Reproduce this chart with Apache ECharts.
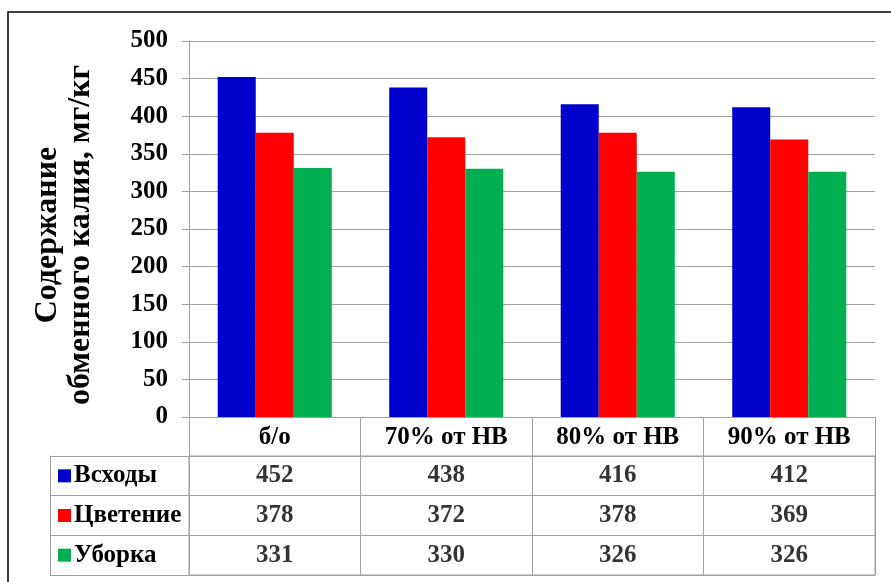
<!DOCTYPE html>
<html>
<head>
<meta charset="utf-8">
<script src="https://cdn.jsdelivr.net/npm/echarts@6/dist/echarts.min.js"></script>
<style>
  html, body { margin: 0; padding: 0; background: #fff; }
  #chart { width: 891px; height: 582px; }
</style>
</head>
<body>
<div id="chart"></div>
<script>
// Irrigation regimes (columns of the data table)
const categories = ['б/о', '70% от НВ', '80% от НВ', '90% от НВ'];
// Growth phases (series / rows of the data table)
const seriesNames = ['Всходы', 'Цветение', 'Уборка'];
const seriesColors = ['#0000CC', '#FF0000', '#00B050'];
// Exchangeable potassium, mg/kg
const vskhody = [452, 438, 416, 412];
const tsvetenie = [378, 372, 378, 369];
const uborka = [331, 330, 326, 326];
const seriesValues = [vskhody, tsvetenie, uborka];
// Y axis
const yMin = 0, yMax = 500, yStep = 50;

const FONT = '"Liberation Serif", "Times New Roman", serif';
const GREY = '#a0a0a0';

const chart = echarts.init(document.getElementById('chart'), null, { renderer: 'canvas' });

// Rich-text styles for the row labels (colour key + name)
const rich = { t: { fontFamily: FONT, fontWeight: 'bold', fontSize: 25, color: '#000', padding: [0, 0, 0, 3] } };
seriesColors.forEach((c, i) => {
  rich['k' + i] = { width: 13, height: 13, backgroundColor: c };
});

// Cells of the data table: [column, row, value]
const cells = [];
seriesValues.forEach((vals, r) => vals.forEach((v, c) => cells.push([c, r, v])));

const bars = seriesNames.map((name, i) => ({
  name: name,
  type: 'bar',
  xAxisIndex: 0,
  yAxisIndex: 0,
  data: seriesValues[i],
  barGap: 0,
  barCategoryGap: '33.5%',
  itemStyle: { color: seriesColors[i] },
  silent: true
}));

chart.setOption({
  animation: false,
  backgroundColor: '#fff',
  graphic: [{
    type: 'rect',
    shape: { x: 8, y: 12, width: 1000, height: 1000 },
    style: { fill: 'none', stroke: '#000', lineWidth: 1.5 },
    silent: true,
    z: 100
  }],
  grid: [
    { left: 189, right: 16, top: 41, bottom: 165 },
    { left: 189, right: 16, top: 456, bottom: 7, show: true, borderColor: GREY, borderWidth: 1 }
  ],
  xAxis: [
    {
      type: 'category',
      gridIndex: 0,
      data: categories,
      axisLine: { lineStyle: { color: GREY, width: 1 } },
      axisTick: { show: true, interval: 0, length: 39, lineStyle: { color: GREY, width: 1 } },
      axisLabel: { interval: 0, margin: 8, fontFamily: FONT, fontWeight: 'bold', fontSize: 25, color: '#000' },
      splitLine: { show: false }
    },
    {
      type: 'category',
      gridIndex: 1,
      data: categories,
      axisLine: { show: false },
      axisTick: { show: false },
      axisLabel: { show: false },
      splitLine: { show: true, interval: 0, lineStyle: { color: GREY, width: 1 } }
    }
  ],
  yAxis: [
    {
      type: 'value',
      gridIndex: 0,
      min: yMin,
      max: yMax,
      interval: yStep,
      name: 'Содержание\nобменного калия, мг/кг',
      nameLocation: 'middle',
      nameRotate: 90,
      nameGap: 92,
      nameTextStyle: {
        fontFamily: FONT, fontWeight: 'bold', fontSize: 32, color: '#000',
        lineHeight: 33, padding: [0, 12, 0, 0]
      },
      axisLine: { show: true, lineStyle: { color: GREY, width: 1 } },
      axisTick: { show: true, length: 7, lineStyle: { color: GREY, width: 1 } },
      axisLabel: { margin: 21, fontFamily: FONT, fontWeight: 'bold', fontSize: 25, color: '#000' },
      splitLine: { show: true, lineStyle: { color: GREY, width: 1 } }
    },
    {
      type: 'category',
      gridIndex: 1,
      inverse: true,
      data: seriesNames,
      axisLine: { show: false },
      axisTick: { show: true, interval: 0, length: 139, lineStyle: { color: GREY, width: 1 } },
      axisLabel: {
        interval: 0,
        margin: 131,
        align: 'left',
        formatter: (v, i) => '{k' + i + '|}{t|' + v + '}',
        rich: rich
      },
      splitLine: { show: true, interval: 0, lineStyle: { color: GREY, width: 1 } }
    },
    {
      type: 'value',
      gridIndex: 1,
      position: 'left',
      offset: 139,
      axisLine: { show: true, lineStyle: { color: GREY, width: 1 } },
      axisTick: { show: false },
      axisLabel: { show: false },
      splitLine: { show: false }
    }
  ],
  series: bars.concat([{
    type: 'scatter',
    xAxisIndex: 1,
    yAxisIndex: 1,
    data: cells,
    symbolSize: 1,
    itemStyle: { color: 'rgba(0,0,0,0)' },
    silent: true,
    label: {
      show: true,
      position: 'inside',
      formatter: p => String(p.data[2]),
      fontFamily: FONT,
      fontWeight: 'bold',
      fontSize: 25,
      color: '#000'
    }
  }])
});
</script>
</body>
</html>
